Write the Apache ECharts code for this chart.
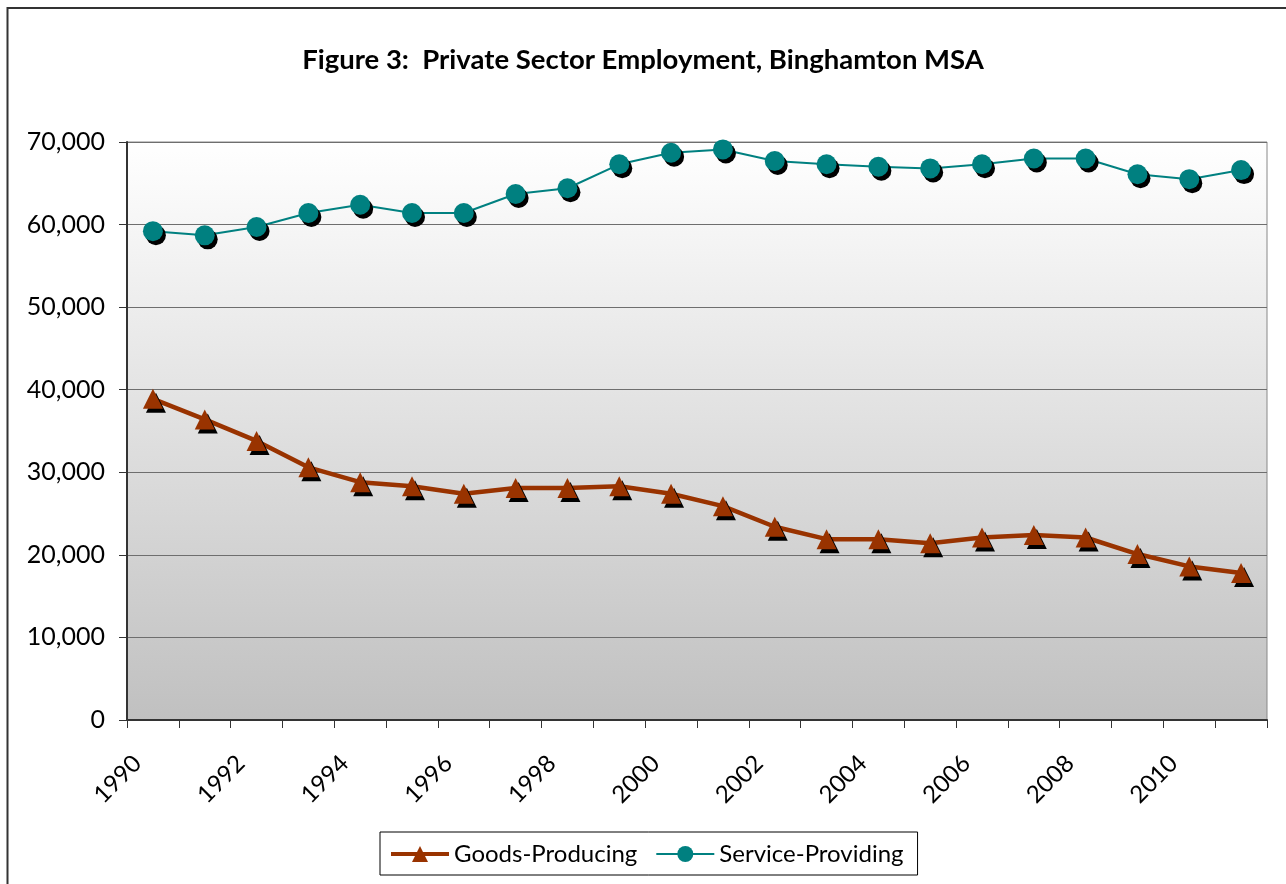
<!DOCTYPE html>
<html>
<head>
<meta charset="utf-8">
<script src="https://cdn.jsdelivr.net/npm/echarts@6/dist/echarts.min.js"></script>
<style>
  html, body { margin: 0; padding: 0; background: #fff; }
  #chart { width: 1286px; height: 884px; }
</style>
</head>
<body>
<div id="chart"></div>
<script>
  // 年份
  const years = ['1990', '1991', '1992', '1993', '1994', '1995', '1996', '1997', '1998', '1999', '2000',
    '2001', '2002', '2003', '2004', '2005', '2006', '2007', '2008', '2009', '2010', '2011'];
  // 商品生产
  const goodsProducing = [38900, 36400, 33800, 30600, 28800, 28300, 27400, 28100, 28100, 28300, 27400,
    25900, 23400, 21900, 21900, 21400, 22100, 22400, 22100, 20100, 18600, 17800];
  // 服务提供
  const serviceProviding = [59200, 58700, 59700, 61400, 62400, 61400, 61400, 63700, 64400, 67300, 68700,
    69100, 67700, 67300, 67000, 66800, 67300, 68000, 68000, 66100, 65500, 66600];

  const font = 'Lato';
  const shadow = {
    shadowColor: '#000',
    shadowBlur: 0,
    shadowOffsetX: 3,
    shadowOffsetY: 4
  };

  let myChart = echarts.init(document.getElementById('chart'));
  let option = {
    backgroundColor: '#fff',
    animation: false,
    textStyle: {
      fontFamily: font,
      color: '#000'
    },
    title: {
      text: 'Figure 3:  Private Sector Employment, Binghamton MSA',
      left: 'center',
      top: 41,
      textStyle: {
        fontFamily: font,
        fontSize: 27.5,
        fontWeight: 'bold',
        color: '#000'
      }
    },
    graphic: [{
      type: 'rect',
      shape: { x: 7.5, y: 8, width: 1290, height: 900 },
      style: { fill: 'none', stroke: '#333', lineWidth: 2 },
      silent: true
    }],
    grid: {
      left: 127,
      right: 19,
      top: 142,
      bottom: 164,
      show: true,
      borderColor: '#888',
      borderWidth: 1,
      backgroundColor: new echarts.graphic.LinearGradient(0, 0, 0, 1, [{
        offset: 0, color: '#ffffff'
      }, {
        offset: 1, color: '#c0c0c0'
      }])
    },
    legend: {
      left: 380,
      top: 832,
      orient: 'horizontal',
      padding: [10, 14, 9, 9],
      itemGap: 18,
      itemWidth: 58,
      itemHeight: 20,
      borderColor: '#000',
      borderWidth: 1,
      backgroundColor: '#fff',
      textStyle: {
        fontFamily: font,
        fontSize: 24,
        color: '#000'
      },
      itemStyle: {
        shadowColor: 'transparent',
        shadowOffsetX: 0,
        shadowOffsetY: 0
      },
      data: [{
        name: 'Goods-Producing',
        lineStyle: { width: 4 }
      }, {
        name: 'Service-Providing',
        lineStyle: { width: 2 }
      }]
    },
    xAxis: {
      type: 'category',
      data: years,
      boundaryGap: true,
      axisLine: {
        lineStyle: { color: '#333', width: 2 }
      },
      axisTick: {
        show: true,
        interval: 0,
        length: 8,
        lineStyle: { color: '#333' }
      },
      axisLabel: {
        interval: 1,
        rotate: 45,
        margin: 24,
        padding: [0, 22, 0, 0],
        fontFamily: font,
        fontSize: 24,
        color: '#000'
      },
      splitLine: { show: false }
    },
    yAxis: {
      type: 'value',
      min: 0,
      max: 70000,
      interval: 10000,
      axisLine: {
        show: true,
        lineStyle: { color: '#333', width: 2 }
      },
      axisTick: {
        show: true,
        length: 8,
        lineStyle: { color: '#333' }
      },
      axisLabel: {
        margin: 22,
        fontFamily: font,
        fontSize: 25,
        color: '#000',
        formatter: function(v) {
          return v.toLocaleString('en-US');
        }
      },
      splitLine: {
        lineStyle: { color: '#6e6e6e', width: 1 }
      }
    },
    series: [{
      name: 'Goods-Producing',
      type: 'line',
      data: goodsProducing,
      symbol: 'triangle',
      symbolSize: 20,
      lineStyle: { color: '#993300', width: 4.5 },
      itemStyle: Object.assign({ color: '#993300', borderWidth: 0 }, shadow)
    }, {
      name: 'Service-Providing',
      type: 'line',
      data: serviceProviding,
      symbol: 'circle',
      symbolSize: 20,
      lineStyle: { color: '#008080', width: 2 },
      itemStyle: Object.assign({ color: '#008080', borderWidth: 0 }, shadow)
    }]
  };
  myChart.setOption(option);
</script>
</body>
</html>
